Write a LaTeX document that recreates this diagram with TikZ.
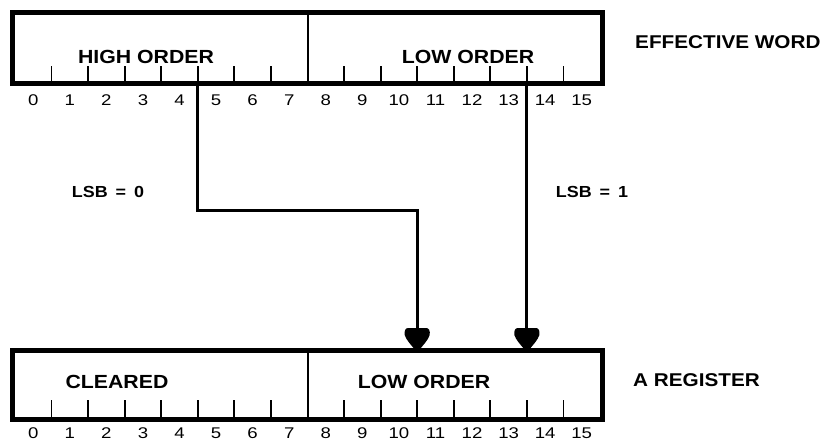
\documentclass[tikz,border=0pt]{standalone}
\usepackage{fontspec}
\setmainfont{Liberation Sans}[FakeStretch=1.12]
\newfontfamily\digitfont{Liberation Sans}[FakeStretch=1.2]
\usetikzlibrary{arrows.meta}
% Shield-shaped arrow head: flat rounded back, sides closing to a point
\pgfdeclarearrow{
  name=Shield,
  setup code={
    \pgfarrowssettipend{0pt}
    \pgfarrowssetlineend{-12pt}
    \pgfarrowssetvisualbackend{-22pt}
    \pgfarrowssetbackend{-22pt}
    \pgfarrowshullpoint{0pt}{0pt}
    \pgfarrowshullpoint{-22pt}{12.5pt}
    \pgfarrowshullpoint{-22pt}{-12.5pt}
  },
  drawing code={
    \pgfpathmoveto{\pgfqpoint{0pt}{2pt}}
    \pgfpathcurveto{\pgfqpoint{-5pt}{6pt}}{\pgfqpoint{-10pt}{11pt}}{\pgfqpoint{-15pt}{12.5pt}}
    \pgfpathcurveto{\pgfqpoint{-19pt}{13pt}}{\pgfqpoint{-22pt}{12pt}}{\pgfqpoint{-22pt}{9pt}}
    \pgfpathlineto{\pgfqpoint{-22pt}{-9pt}}
    \pgfpathcurveto{\pgfqpoint{-22pt}{-12pt}}{\pgfqpoint{-19pt}{-13pt}}{\pgfqpoint{-15pt}{-12.5pt}}
    \pgfpathcurveto{\pgfqpoint{-10pt}{-11pt}}{\pgfqpoint{-5pt}{-6pt}}{\pgfqpoint{0pt}{-2pt}}
    \pgfpathclose
    \pgfusepathqfill
  }
}
\begin{document}
\begin{tikzpicture}[x=1pt,y=-1pt,
  regbox/.style={line width=5pt},
  divider/.style={line width=2pt},
  bittick/.style={line width=1.8pt},
  bitnum/.style={inner sep=0pt,font=\digitfont\fontsize{15.5}{15.5}\selectfont},
  fieldlbl/.style={inner sep=0pt,font=\bfseries\fontsize{19}{19}\selectfont},
  sidelbl/.style={inner sep=0pt,anchor=west,font=\bfseries\fontsize{18.5}{18.5}\selectfont},
  condlbl/.style={inner sep=0pt,font=\bfseries\fontsize{16}{16}\selectfont},
  flow/.style={line width=3pt,-{Shield}}]
\useasboundingbox (0,0) rectangle (828,447);
\def\bw{36.5625}
% ---- effective word (top register) ----
\draw[regbox] (12.5,12.5) rectangle (602.5,83.5);
\draw[divider] (307.5,15) -- (307.5,81);
\foreach \i in {1,...,7,9,10,...,15}
  \draw[bittick] ({15+\bw*\i},81) -- ++(0,-15);
\foreach \i in {0,...,15}
  \node[bitnum] (tn\i) at ({15+\bw*(\i+0.5)},100.5) {\i};
\node[fieldlbl] (thigh) at (146,57) {HIGH ORDER};
\node[fieldlbl] (tlow) at (468,57) {LOW ORDER};
\node[sidelbl] (ew) at (635,42) {EFFECTIVE WORD};
% ---- A register (bottom) ----
\draw[regbox] (12.5,350.5) rectangle (602.5,419.5);
\draw[divider] (307.5,353) -- (307.5,417);
\foreach \i in {1,...,7,9,10,...,15}
  \draw[bittick] ({15+\bw*\i},417) -- ++(0,-17);
\foreach \i in {0,...,15}
  \node[bitnum] (bn\i) at ({15+\bw*(\i+0.5)},433.5) {\i};
\node[fieldlbl] (bclr) at (117,382) {CLEARED};
\node[fieldlbl] (blow) at (424,382) {LOW ORDER};
\node[sidelbl] (areg) at (633,380) {A REGISTER};
% ---- transfer paths ----
\coordinate (src5) at ({15+\bw*5},86);
\coordinate (src14) at ({15+\bw*14},86);
\coordinate (dst11) at ({15+\bw*11},350);
\coordinate (dst14) at ({15+\bw*14},350);
\draw[flow] (src5) -- ++(0,124) -| (dst11);
\draw[flow] (src14) -- (dst14);
\node[condlbl] (lsb0) at (108,192) {LSB\hspace{0.5em}=\hspace{0.5em}0};
\node[condlbl] (lsb1) at (592,192) {LSB\hspace{0.5em}=\hspace{0.5em}1};
\end{tikzpicture}
\end{document}
